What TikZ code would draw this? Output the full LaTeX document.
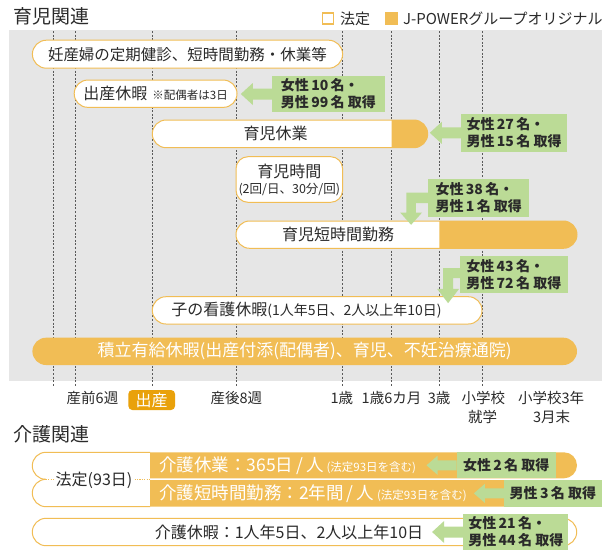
\documentclass[tikz,border=0pt]{standalone}
\usepackage{fontspec}
\setmainfont{Noto Sans CJK JP}
\usetikzlibrary{shapes.misc,calc}
\definecolor{orng}{HTML}{F1BD55}
\definecolor{grn}{HTML}{BBDB96}
\definecolor{bggray}{HTML}{E6E6E6}
\definecolor{txt}{HTML}{2A2A2A}
\definecolor{birth}{HTML}{E9A10B}
\definecolor{dashc}{HTML}{5A5A5A}
\newcommand\myfs[1]{\fontsize{#1}{#1}\selectfont}
\newcommand\garrowL[1]{\fill[grn] ($(#1.west)+(0,-5.5)$) -- ++(-19,0) -- ++(0,-5.5) -- ++(-12,11) -- ++(12,11) -- ++(0,-5.5) -- ++(19,0) -- cycle;}
\newcommand\garrowS[1]{\fill[grn] ($(#1.west)+(0,-5)$) -- ++(-19,0) -- ++(0,-4.5) -- ++(-11,9.5) -- ++(11,9.5) -- ++(0,-4.5) -- ++(19,0) -- cycle;}
\begin{document}
\begin{tikzpicture}[x=1pt,y=-1pt,
  pill/.style={shape=rounded rectangle, draw=orng, line width=1pt, fill=white, inner sep=0pt, text=txt},
  ohalf/.style={shape=rounded rectangle, rounded rectangle west arc=none, fill=orng, inner sep=0pt},
  opill/.style={shape=rounded rectangle, fill=orng, inner sep=0pt, text=white},
  gbox/.style={shape=rectangle, fill=grn, inner sep=0pt, text=txt, align=left, font={\fontsize{14}{17}\selectfont\bfseries}},
  lbl/.style={text=txt, inner sep=0pt, font=\myfs{14.5}},
  btxt/.style={text=txt, inner sep=0pt},
  vline/.style={draw=dashc, line width=0.9pt, dash pattern=on 2pt off 1.6pt},
]
\useasboundingbox (0,0) rectangle (611,550);
\fill[white] (0,0) rectangle (611,550);

% titles and legend
\node[anchor=west, btxt, font=\myfs{19}] (t1) at (13,16) {育児関連};
\node[draw=orng, line width=1.6pt, fill=white, minimum size=11pt, inner sep=0pt] (lg1) at (328,18.7) {};
\node[anchor=west, btxt, font=\myfs{15}] (lg1t) at (340,18.7) {法定};
\node[fill=orng, minimum size=12.6pt, inner sep=0pt] (lg2) at (391.7,18.7) {};
\node[anchor=west, btxt, font=\myfs{15}] (lg2t) at (403,18.7) {J-POWERグループオリジナル};

% gray area
\fill[bggray] (9,30) rectangle (602,381);

% dashed time lines
\foreach \xx in {53,75,152,236,342,391,439,482}
  \draw[vline] (\xx,31) -- (\xx,387);

% bars
\node[pill, minimum width=310.2pt, minimum height=28pt, font=\myfs{15.5}] (b1) at (187.5,54.2) {妊産婦の定期健診、短時間勤務・休業等};
\node[pill, minimum width=162.8pt, minimum height=27.3pt] (b2) at (155.6,93.7) {\myfs{16}出産休暇\hspace{5pt}\myfs{11.5}※配偶者は3日};

\node[pill, minimum width=275.4pt, minimum height=27.7pt] (b3) at (290,133.85) {};
\node[ohalf, minimum width=36.2pt, minimum height=27.7pt] (b3o) at (409.6,133.85) {};
\node[btxt, font=\myfs{16}] (b3t) at (275.5,133.85) {育児休業};

\node[draw=orng, line width=1pt, fill=white, rounded corners=12pt, minimum width=106.6pt, minimum height=45.6pt, inner sep=0pt] (b4) at (289.3,179.5) {};
\node[btxt, font=\myfs{16}] (b4t) at (289.3,171.2) {育児時間};
\node[btxt, font=\myfs{12.5}] (b4s) at (289.3,189.3) {(2回/日、30分/回)};

\node[pill, minimum width=341pt, minimum height=27.3pt] (b5) at (406.5,234.65) {};
\node[ohalf, minimum width=137.7pt, minimum height=27.3pt] (b5o) at (508.15,234.65) {};
\node[btxt, font=\myfs{16}] (b5t) at (338,234.65) {育児短時間勤務};

\node[pill, minimum width=329.7pt, minimum height=27.3pt] (b6) at (317.15,310.35) {};
\node[btxt] (b6t) at (306.5,310.35) {\myfs{16}子の看護休暇\myfs{14}(1人年5日、2人以上年10日)};

\node[opill, minimum width=544.6pt, minimum height=27.3pt, font=\myfs{17}] (b7) at (304.7,351.35) {積立有給休暇(出産付添(配偶者)、育児、不妊治療通院)};

% green result boxes
\node[gbox, minimum width=112.8pt, minimum height=36pt] (g1) at (328.4,94) {女性\,10\,名・\\男性\,99\,名 取得};
\node[gbox, minimum width=106.2pt, minimum height=37.7pt] (g2) at (514.1,132.8) {女性\,27\,名・\\男性\,15\,名 取得};
\node[gbox, minimum width=101pt, minimum height=37.4pt] (g3) at (478.8,198) {女性\,38\,名・\\男性\,1\,名 取得};
\node[gbox, minimum width=107.6pt, minimum height=37.3pt] (g4) at (513.8,274.7) {女性\,43\,名・\\男性\,72\,名 取得};

\garrowL{g1}
\garrowL{g2}
\fill[grn] ($(g3.north west)+(0,13.4)$) -- ++(-21.8,0) -- ++(0,20) -- ++(-6.2,0) -- ++(11,12.3) -- ++(11,-12.3) -- ++(-6.2,0) -- ++(0,-9.4) -- ++(12.2,0) -- cycle;
\fill[grn] ($(g4.north west)+(0,12.3)$) -- ++(-16.7,0) -- ++(0,20.7) -- ++(-6,0) -- ++(11,14.3) -- ++(11,-14.3) -- ++(-6,0) -- ++(0,-10.7) -- ++(6.7,0) -- cycle;

% axis labels
\node[lbl] (l1) at (92.5,398.3) {産前6週};
\node[fill=birth, rounded corners=4pt, minimum width=46.7pt, minimum height=20pt, inner sep=0pt, text=white, font=\myfs{16}] (l2) at (151.7,400) {出産};
\node[lbl] (l3) at (236.3,398.3) {産後8週};
\node[lbl] (l4) at (341.9,398.3) {1歳};
\node[lbl] (l5) at (391.5,398.3) {1歳6カ月};
\node[lbl] (l6) at (439.2,398.3) {3歳};
\node[lbl] (l7) at (483.3,398.3) {小学校};
\node[lbl] (l7b) at (482.7,416.7) {就学};
\node[lbl] (l8) at (551.2,398.3) {小学校3年};
\node[lbl] (l8b) at (551.7,416.7) {3月末};

% care section
\node[anchor=west, btxt, font=\myfs{19}] (t2) at (13,434) {介護関連};

\node[ohalf, minimum width=427pt, minimum height=26pt] (k1) at (363.5,465.3) {};
\node[ohalf, minimum width=427pt, minimum height=26.7pt] (k2) at (363.5,493.35) {};
\node[anchor=west, text=white, inner sep=0pt] (k1t) at (159,465.3) {\myfs{17.5}介護休業：365日\,/\,人\hspace{3pt}\myfs{11.5}(法定93日を含む)};
\node[anchor=west, text=white, inner sep=0pt] (k2t) at (159,493.35) {\myfs{17.5}介護短時間勤務：2年間\,/\,人\hspace{3pt}\myfs{11.5}(法定93日を含む)};

\draw[orng, line width=1pt, rounded corners=13.5pt] (150,452.3) -- (32.3,452.3) -- (32.3,479.3) -- (45.8,479.3);
\draw[orng, line width=1pt, rounded corners=13.7pt] (45.8,479.3) -- (32.3,479.3) -- (32.3,506.7) -- (150,506.7);
\draw[orng, line width=0.9pt, dash pattern=on 1.2pt off 1.2pt] (45.8,479.3) -- (150,479.3);
\node[btxt, fill=white, inner sep=1pt, font=\myfs{16}] (k0t) at (94,480.7) {法定(93日)};

\node[pill, minimum width=544.4pt, minimum height=27.4pt] (k3) at (304.5,532) {};
\node[btxt, font=\myfs{16}] (k3t) at (289,532) {介護休暇：1人年5日、2人以上年10日};

\node[gbox, minimum width=99pt, minimum height=26pt] (g5) at (506.2,465.3) {女性\,2\,名 取得};
\node[gbox, minimum width=97.7pt, minimum height=26.7pt] (g6) at (552.9,493.35) {男性\,3\,名 取得};
\node[gbox, minimum width=105pt, minimum height=36pt] (g7) at (515.8,532) {女性\,21\,名・\\男性\,44\,名 取得};
\garrowS{g5}
\garrowS{g6}
\garrowL{g7}
\end{tikzpicture}
\end{document}
